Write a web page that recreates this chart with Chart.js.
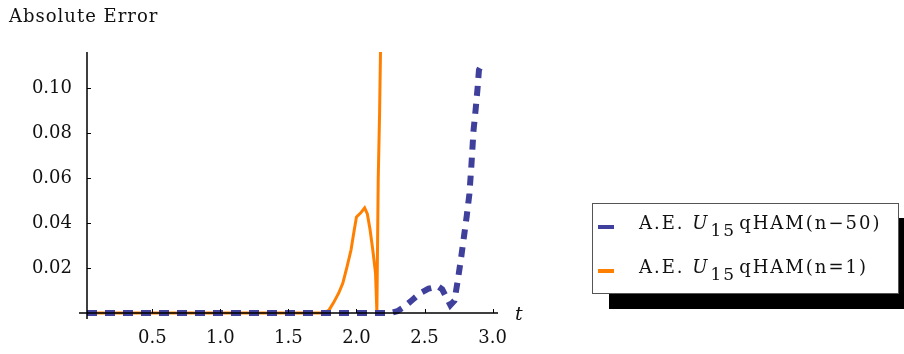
<!DOCTYPE html>
<html>
<head>
<meta charset="utf-8">
<script src="https://cdn.jsdelivr.net/npm/chart.js@4.4.0/dist/chart.umd.min.js"></script>
<style>
  html, body { margin: 0; padding: 0; background: #fff; overflow: hidden; }
  .wrap { position: relative; width: 904px; height: 354px; }
  .wrap canvas { position: absolute; left: 0; top: 0; }
  .label { position: absolute; font-family: "DejaVu Serif", serif; color: #111; white-space: nowrap; }
  .title { left: 9px; top: 5px; font-size: 18px; letter-spacing: 1px; }
  .t-label { left: 515px; top: 302px; font-size: 19px; font-style: italic; }
  .legend {
    position: absolute; left: 592px; top: 203px; width: 307px; height: 91px;
    box-sizing: border-box; border: 1px solid #555; background: #fff;
    box-shadow: 17px 15px 0 #000;
  }
  .legend .row { position: absolute; left: 0; height: 30px; width: 100%; }
  .legend .swatch { position: absolute; left: 5px; width: 16px; height: 4px; }
  .legend .text { position: absolute; left: 46px; font-family: "DejaVu Serif", serif; font-size: 18px; letter-spacing: 2px; color: #111; white-space: nowrap; }
  .legend sub { font-size: 17px; vertical-align: -7px; margin-left: 1px; margin-right: 3px; }
</style>
</head>
<body>
<div class="wrap">
  <canvas id="chart__error" width="904" height="354"></canvas>
  <div class="label title">Absolute Error</div>
  <div class="label t-label">t</div>
  <div class="legend">
    <div class="row" style="top:7px">
      <div class="swatch" style="top:14px;background:#3f3f9c"></div>
      <div class="text" style="top:1px">A.E. <i>U</i><sub>15</sub>qHAM(n−50)</div>
    </div>
    <div class="row" style="top:51px">
      <div class="swatch" style="top:14px;background:#ff8000"></div>
      <div class="text" style="top:1px">A.E. <i>U</i><sub>15</sub>qHAM(n=1)</div>
    </div>
  </div>
</div>
<script>
// blue dashed curve, n = 50
const tBlue = [0.02, 0.5, 1.0, 1.5, 2.0, 2.25, 2.30, 2.35, 2.41, 2.47, 2.53, 2.60, 2.63, 2.66, 2.69, 2.72, 2.745, 2.77, 2.79, 2.81, 2.83, 2.845, 2.86, 2.875, 2.89, 2.90, 2.93];
const errBlue = [0, 0, 0, 0, 0, 0, 0.0008, 0.0027, 0.0058, 0.0089, 0.0108, 0.0118, 0.0105, 0.007, 0.0035, 0.0055, 0.0147, 0.025, 0.034, 0.043, 0.053, 0.066, 0.081, 0.090, 0.100, 0.108, 0.1116];

// orange solid curve, n = 1
const tOrange = [0.02, 1.0, 1.6, 1.77, 1.80, 1.83, 1.87, 1.90, 1.93, 1.96, 1.98, 2.00, 2.03, 2.06, 2.08, 2.10, 2.12, 2.14, 2.15, 2.16, 2.17, 2.18];
const errOrange = [0, 0, 0, 0, 0.0015, 0.0044, 0.0089, 0.0133, 0.0204, 0.028, 0.0356, 0.0427, 0.0444, 0.0467, 0.044, 0.037, 0.028, 0.0178, 0.0004, 0.06, 0.089, 0.13];

const xTicks = [0.5, 1.0, 1.5, 2.0, 2.5, 3.0];
const yTicks = [0.02, 0.04, 0.06, 0.08, 0.10];

const ctx = document.getElementById("chart__error");

function toPoints(xs, ys) {
  return xs.map((x, i) => ({ x: x, y: ys[i] }));
}

// mathematica style axes: lines crossing at origin, short ticks pointing inward
const axesPlugin = {
  id: "mmaAxes",
  afterDatasetsDraw(chart) {
    const c = chart.ctx;
    const xs = chart.scales.x;
    const ys = chart.scales.y;
    const area = chart.chartArea;
    c.save();
    c.strokeStyle = "#000";
    c.lineWidth = 1.5;
    c.beginPath();
    c.moveTo(area.left - 8, area.bottom);
    c.lineTo(area.right, area.bottom);
    c.moveTo(area.left, area.top);
    c.lineTo(area.left, area.bottom + 6);
    c.stroke();
    c.lineWidth = 1;
    c.beginPath();
    xTicks.forEach((v) => {
      const px = Math.round(xs.getPixelForValue(v)) + 0.5;
      c.moveTo(px, area.bottom);
      c.lineTo(px, area.bottom - 4);
    });
    yTicks.forEach((v) => {
      const py = Math.round(ys.getPixelForValue(v)) + 0.5;
      c.moveTo(area.left, py);
      c.lineTo(area.left + 4, py);
    });
    c.stroke();
    c.restore();
  },
};

const tickFont = { family: "DejaVu Serif", size: 18 };

new Chart(ctx, {
  type: "line",
  data: {
    datasets: [
      {
        label: "A.E. U15 qHAM(n−50)",
        data: toPoints(tBlue, errBlue),
        borderColor: "#3f3f9c",
        backgroundColor: "#3f3f9c",
        borderWidth: 6,
        borderDash: [10, 8],
        pointRadius: 0,
        tension: 0,
        fill: false,
        order: 0,
        clip: { left: 5, right: 5, top: 0, bottom: 6 },
      },
      {
        label: "A.E. U15 qHAM(n=1)",
        data: toPoints(tOrange, errOrange),
        borderColor: "#ff8000",
        backgroundColor: "#ff8000",
        borderWidth: 3,
        pointRadius: 0,
        tension: 0,
        fill: false,
        order: 1,
        clip: { left: 5, right: 5, top: 0, bottom: 6 },
      },
    ],
  },
  options: {
    responsive: false,
    animation: false,
    layout: { padding: { left: 0, right: 406, top: 52, bottom: 0 } },
    plugins: { legend: { display: false }, tooltip: { enabled: false } },
    scales: {
      x: {
        type: "linear",
        min: 0.02,
        max: 3.04,
        grid: { display: false, drawTicks: false },
        border: { display: false },
        afterBuildTicks: (scale) => {
          scale.ticks = xTicks.map((v) => ({ value: v }));
        },
        afterFit: (scale) => {
          scale.height = 41;
        },
        ticks: {
          color: "#111",
          font: tickFont,
          padding: 15,
          maxRotation: 0,
          callback: (v) => Number(v).toFixed(1),
        },
      },
      y: {
        type: "linear",
        min: 0,
        max: 0.116,
        grid: { display: false, drawTicks: false },
        border: { display: false },
        afterBuildTicks: (scale) => {
          scale.ticks = yTicks.map((v) => ({ value: v }));
        },
        afterFit: (scale) => {
          scale.width = 87;
        },
        ticks: {
          color: "#111",
          font: tickFont,
          padding: 15,
          callback: (v) => Number(v).toFixed(2),
        },
      },
    },
  },
  plugins: [axesPlugin],
});
</script>
</body>
</html>
